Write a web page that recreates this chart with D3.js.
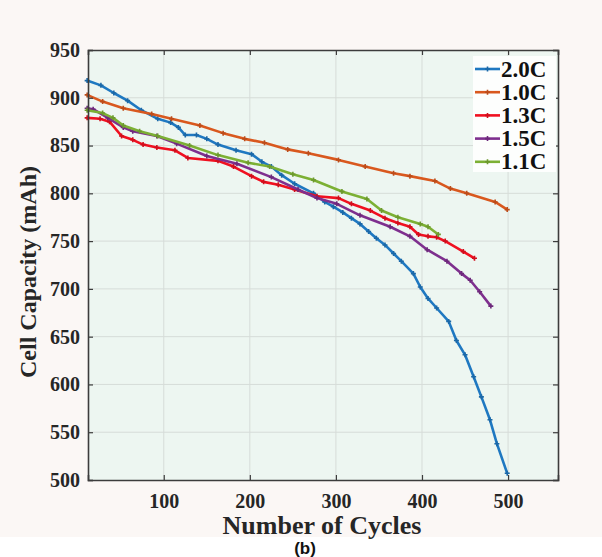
<!DOCTYPE html>
<html>
<head>
<meta charset="utf-8">
<script src="https://cdn.jsdelivr.net/npm/d3@7"></script>
<style>
  body { margin: 0; background: #fff; }
  svg { display: block; }
</style>
</head>
<body>
<svg id="chart" width="602" height="557"></svg>
<script>
// series data, [cycles, capacity mAh]
const c20 = [[11,918],[27,913],[42,905],[58,897],[74,887],[93,878],[108,874],[117,869],[125,861],[138,861],[150,857],[163,851],[184,845],[202,841],[214,833],[225,828],[237,819],[252,810],[274,800],[287,791],[297,786],[308,780],[318,774],[328,768],[338,760],[347,753],[357,746],[367,737],[376,729],[390,716],[398,702],[407,690],[417,680],[431,666],[440,646],[450,631],[460,608],[469,587],[479,563],[487,538],[499,507]];
const c10 = [[11,903],[29,896],[53,889],[86,883],[109,878],[142,871],[169,863],[194,857],[217,853],[244,846],[268,842],[303,835],[334,828],[367,821],[386,818],[415,813],[433,805],[452,800],[485,791],[499,783]];
const c13 = [[11,879],[26,878],[37,875],[51,860],[64,856],[76,851],[92,848],[113,845],[128,837],[163,834],[181,828],[202,818],[216,812],[233,809],[252,804],[278,797],[303,795],[318,789],[340,782],[357,774],[372,769],[386,765],[396,757],[407,755],[417,754],[427,750],[448,739],[461,732]];
const c15 = [[11,889],[18,888],[35,879],[53,869],[64,865],[92,860],[115,852],[150,839],[185,831],[225,817],[256,804],[278,795],[301,789],[328,777],[363,765],[386,755],[406,741],[429,729],[446,716],[456,709],[467,697],[480,682]];
const c11 = [[11,887],[29,884],[41,879],[53,871],[72,865],[93,860],[130,850],[163,840],[198,832],[223,828],[250,820],[274,814],[307,802],[336,794],[353,782],[372,775],[398,768],[407,765],[419,757]];

const seriesNames = ['2.0C', '1.0C', '1.3C', '1.5C', '1.1C'];
const seriesData = [c20, c10, c13, c15, c11];
const seriesColors = ['#1f78c1', '#d9581e', '#f01020', '#7e2f8e', '#7cb034'];

const xTicks = [100, 200, 300, 400, 500];
const yTicks = [500, 550, 600, 650, 700, 750, 800, 850, 900, 950];

const svg = d3.select('#chart');
const W = 602, H = 557;
const margin = {left: 88, top: 50, right: 44, bottom: 77};

// page background
svg.append('rect').attr('width', W).attr('height', 537).attr('fill', '#fbf7f5');

const x = d3.scaleLinear().domain([12, 558]).range([margin.left, W - margin.right]);
const y = d3.scaleLinear().domain([500, 950]).range([H - margin.bottom, margin.top]);

// plot area
svg.append('rect')
    .attr('x', x.range()[0]).attr('y', y.range()[1])
    .attr('width', x.range()[1] - x.range()[0])
    .attr('height', y.range()[0] - y.range()[1])
    .attr('fill', '#edf6f1');

// grid
const grid = svg.append('g');
grid.selectAll('.vg').data(xTicks).join('line')
    .attr('x1', d => x(d)).attr('x2', d => x(d))
    .attr('y1', y(500)).attr('y2', y(950))
    .attr('stroke', '#d6dcd8').attr('stroke-width', 1);
grid.selectAll('.hg').data(yTicks.slice(1, -1)).join('line')
    .attr('y1', d => y(d)).attr('y2', d => y(d))
    .attr('x1', x.range()[0]).attr('x2', x.range()[1])
    .attr('stroke', '#d6dcd8').attr('stroke-width', 1);

// lines
const line = d3.line().x(d => x(d[0])).y(d => y(d[1]));
seriesData.forEach((data, i) => {
    const g = svg.append('g');
    g.append('path')
        .datum(data)
        .attr('d', line)
        .attr('fill', 'none')
        .attr('stroke', seriesColors[i])
        .attr('stroke-width', 2.6)
        .attr('stroke-linejoin', 'round');
    // small + markers
    g.selectAll('path.m').data(data).join('path')
        .attr('class', 'm')
        .attr('d', d => `M${x(d[0]) - 2.5},${y(d[1])}h5M${x(d[0])},${y(d[1]) - 2.5}v5`)
        .attr('stroke', d3.color(seriesColors[i]).darker(0.4))
        .attr('stroke-width', 1.6);
});

// axes
const tickFont = 'bold 20px "Liberation Serif", "Times New Roman", serif';
const xAxis = svg.append('g')
    .attr('transform', `translate(0,${y(500)})`)
    .call(d3.axisBottom(x).tickValues(xTicks).tickSize(-5).tickPadding(14));
const yAxis = svg.append('g')
    .attr('transform', `translate(${x.range()[0]},0)`)
    .call(d3.axisLeft(y).tickValues(yTicks).tickSize(-5).tickPadding(8));
const xTop = svg.append('g')
    .attr('transform', `translate(0,${y(950)})`)
    .call(d3.axisTop(x).tickValues(xTicks).tickSize(-5).tickFormat(''));
const yRight = svg.append('g')
    .attr('transform', `translate(${x.range()[1]},0)`)
    .call(d3.axisRight(y).tickValues(yTicks).tickSize(-5).tickFormat(''));

[xAxis, yAxis, xTop, yRight].forEach(a => {
    a.select('.domain').attr('stroke', '#3c3c3c').attr('stroke-width', 1.6);
    a.selectAll('.tick line').attr('stroke', '#3c3c3c').attr('stroke-width', 1.2);
    a.selectAll('.tick text').style('font', tickFont).attr('fill', '#262626');
});

// legend
const leg = svg.append('g').attr('transform', 'translate(473,56)');
leg.append('rect').attr('width', 83).attr('height', 116).attr('fill', '#fdfefd');
seriesNames.forEach((name, i) => {
    const row = leg.append('g').attr('transform', `translate(0,${13 + i * 23.2})`);
    row.append('line').attr('x1', 2).attr('x2', 27)
        .attr('stroke', seriesColors[i]).attr('stroke-width', 2.6);
    row.append('path').attr('d', 'M12,0h5M14.5,-2.5v5')
        .attr('stroke', d3.color(seriesColors[i]).darker(0.4)).attr('stroke-width', 1.6);
    row.append('text').attr('x', 28).attr('y', 7.5)
        .style('font', 'bold 23px "Liberation Serif", "Times New Roman", serif')
        .attr('fill', '#111').text(name);
});

// axis titles
svg.append('text')
    .attr('transform', `translate(36,272) rotate(-90)`)
    .attr('text-anchor', 'middle')
    .style('font', 'bold 24px "Liberation Serif", "Times New Roman", serif')
    .attr('fill', '#262626')
    .text('Cell Capacity (mAh)');
svg.append('text')
    .attr('x', 322).attr('y', 534)
    .attr('text-anchor', 'middle')
    .style('font', 'bold 26px "Liberation Serif", "Times New Roman", serif')
    .attr('fill', '#262626')
    .text('Number of Cycles');
svg.append('text')
    .attr('x', 305).attr('y', 554)
    .attr('text-anchor', 'middle')
    .style('font', 'bold 17px "Liberation Sans", Arial, sans-serif')
    .attr('fill', '#111')
    .text('(b)');
</script>
</body>
</html>
